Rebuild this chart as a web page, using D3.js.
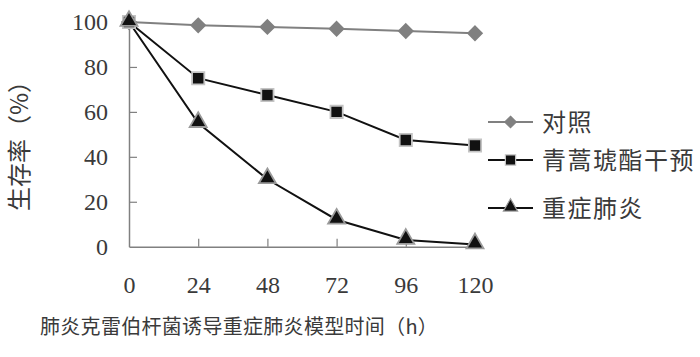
<!DOCTYPE html>
<html>
<head>
<meta charset="utf-8">
<script src="https://cdn.jsdelivr.net/npm/d3@7"></script>
<style>
  body { margin: 0; background: #fff; }
  svg { display: block; }
</style>
</head>
<body>
<svg class="chart"></svg>
<script>
var width = 700;
var height = 357;

// hours after infection
var hours = [0, 24, 48, 72, 96, 120];
var yTicks = [0, 20, 40, 60, 80, 100];
var seriesNames = ["对照", "青蒿琥酯干预", "重症肺炎"];
// survival rate (%)
var control = [100, 98.5, 97.8, 97, 96, 95];
var artesunate = [100, 75, 67.5, 60, 47.5, 45];
var severe = [100, 55, 30, 12, 3, 1];

var numFont = "'Liberation Serif', 'DejaVu Serif', serif";
var cjkFont = "'Noto Sans CJK SC', sans-serif";
var textColor = "#3a3a3a";
var axisColor = "#808080";

var chart = d3.select(".chart").attr("width", width).attr("height", height);

var x = d3.scaleLinear().domain([0, 120]).range([129, 475]);
var y = d3.scaleLinear().domain([0, 100]).range([246.7, 22]);

// both axes with ticks pointing into the plot
var yAxis = chart.append("g").attr("transform", "translate(" + x(0) + ",0)")
    .call(d3.axisLeft(y).tickValues(yTicks).tickSize(-8).tickPadding(21).tickSizeOuter(0));
var xAxis = chart.append("g").attr("transform", "translate(0," + y(0) + ")")
    .call(d3.axisBottom(x).tickValues(hours).tickSize(-8).tickPadding(29).tickSizeOuter(0));

[xAxis, yAxis].forEach(function(a) {
  a.select(".domain").attr("stroke", axisColor).attr("stroke-width", 1.5);
  a.selectAll(".tick line").attr("stroke", axisColor).attr("stroke-width", 1.2);
  a.selectAll(".tick text").attr("fill", textColor)
    .style("font-family", numFont).style("font-size", "24px");
});
xAxis.selectAll(".tick").filter(function(d) { return d === 0; }).select("line").remove();
yAxis.selectAll(".tick").filter(function(d) { return d === 0; }).select("line").remove();

var diamond = {
  draw: function(ctx, size) {
    var r = Math.sqrt(size) / Math.SQRT2;
    ctx.moveTo(0, -r); ctx.lineTo(r, 0); ctx.lineTo(0, r); ctx.lineTo(-r, 0); ctx.closePath();
  }
};

var series = [
  { name: seriesNames[0], values: control, line: "#808080", shape: diamond, fill: "#808080", stroke: "#808080", size: 95 },
  { name: seriesNames[1], values: artesunate, line: "#111", shape: d3.symbolSquare, fill: "#111", stroke: "#c4c4c4", size: 150 },
  { name: seriesNames[2], values: severe, line: "#111", shape: d3.symbolTriangle, fill: "#111", stroke: "#9a9a9a", size: 125 }
];

var line = d3.line()
  .x(function(d, i) { return x(hours[i]); })
  .y(function(d) { return y(d); });

series.forEach(function(s) {
  chart.append("path")
    .attr("d", line(s.values))
    .attr("fill", "none")
    .attr("stroke", s.line)
    .attr("stroke-width", 2);
});
series.forEach(function(s) {
  chart.selectAll(null)
    .data(s.values)
    .enter().append("path")
    .attr("transform", function(d, i) {
      var dy = s.shape === d3.symbolTriangle ? -1 : 0;
      return "translate(" + x(hours[i]) + "," + (y(d) + dy) + ")";
    })
    .attr("d", d3.symbol().type(s.shape).size(s.size))
    .attr("fill", s.fill)
    .attr("stroke", s.stroke)
    .attr("stroke-width", 1.8);
});

// legend
var legendY = [122, 160, 208];
var legend = chart.selectAll(".legend")
    .data(series)
  .enter().append("g")
    .attr("class", "legend")
    .attr("transform", function(d, i) { return "translate(488," + legendY[i] + ")"; });

legend.append("line")
  .attr("x1", 0).attr("x2", 45)
  .attr("stroke", function(d) { return d.line; })
  .attr("stroke-width", 2);
legend.append("path")
  .attr("transform", function(d) { return "translate(22.5," + (d.shape === d3.symbolTriangle ? -1 : 0) + ")"; })
  .attr("d", function(d) { return d3.symbol().type(d.shape).size(d.size * 0.7)(); })
  .attr("fill", function(d) { return d.fill; })
  .attr("stroke", function(d) { return d.stroke; })
  .attr("stroke-width", 1.2);
legend.append("text")
  .attr("x", 54)
  .attr("dy", "0.36em")
  .attr("fill", textColor)
  .style("font-family", cjkFont)
  .style("font-size", "24px")
  .style("letter-spacing", "1.5px")
  .text(function(d) { return d.name; });

// axis titles
chart.append("text")
  .attr("x", 40).attr("y", 334)
  .attr("fill", textColor)
  .style("font-family", cjkFont)
  .style("font-size", "20px")
  .style("letter-spacing", "0.3px")
  .text("肺炎克雷伯杆菌诱导重症肺炎模型时间（h）");

chart.append("text")
  .attr("transform", "translate(28,140) rotate(-90)")
  .attr("text-anchor", "middle")
  .attr("fill", textColor)
  .style("font-family", cjkFont)
  .style("font-size", "24px")
  .text("生存率（%）");
</script>
</body>
</html>
